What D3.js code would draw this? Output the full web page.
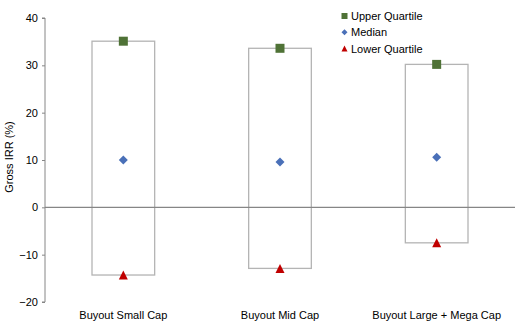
<!DOCTYPE html>
<html><head><meta charset="utf-8">
<script src="https://cdn.jsdelivr.net/npm/d3@7"></script>
<style>body{margin:0;background:#fff}svg{display:block;font-family:"Liberation Sans",Arial,sans-serif}</style>
</head><body><svg id="c" width="530" height="326"></svg>
<script>
const categories = ["Buyout Small Cap", "Buyout Mid Cap", "Buyout Large + Mega Cap"];
const upperQuartile = [35.1, 33.6, 30.2];
const median = [10.0, 9.6, 10.6];
const lowerQuartile = [-14.3, -12.9, -7.5];
const yTicks = [-20, -10, 0, 10, 20, 30, 40];
const legendLabels = ["Upper Quartile", "Median", "Lower Quartile"];

const svg = d3.select("#c");
const x0 = 45, x1 = 515;
const y = d3.scaleLinear().domain([-20, 40]).range([302, 18]);
const x = d3.scaleBand().domain(categories).range([x0, x1]).paddingInner(0).paddingOuter(0);
const boxW = x.bandwidth() * 0.4;
const cx = c => x(c) + x.bandwidth() / 2;

// y axis
const ax = svg.append("g").attr("transform", `translate(${x0},0)`)
  .call(d3.axisLeft(y).tickValues(yTicks).tickSize(3).tickPadding(4));
ax.select(".domain").attr("stroke", "#868686").attr("d", `M-3,${y(-20)}H0V${y(40)}H-3`);
ax.selectAll(".tick line").attr("stroke", "#868686");
ax.selectAll(".tick text").attr("font-size", 11).attr("fill", "#000").attr("font-family", "Liberation Sans, Arial, sans-serif");

// boxes
svg.selectAll("rect.box").data(categories).join("rect").attr("class", "box")
  .attr("x", c => cx(c) - boxW / 2).attr("width", boxW)
  .attr("y", (c, i) => y(upperQuartile[i]))
  .attr("height", (c, i) => y(lowerQuartile[i]) - y(upperQuartile[i]))
  .attr("fill", "none").attr("stroke", "#b4b4b4").attr("stroke-width", 1.3);

// zero line
svg.append("line").attr("x1", x0).attr("x2", x1).attr("y1", y(0)).attr("y2", y(0))
  .attr("stroke", "#868686").attr("stroke-width", 1.2);

// marker shapes
const squarePath = s => `M${-s/2},${-s/2}h${s}v${s}h${-s}Z`;
const diamondPath = s => `M0,${-s/2}L${s/2},0L0,${s/2}L${-s/2},0Z`;
const trianglePath = s => `M0,${-s/2}L${s/2},${s/2}L${-s/2},${s/2}Z`;

svg.selectAll("path.up").data(categories).join("path")
  .attr("transform", (c, i) => `translate(${cx(c)},${y(upperQuartile[i])})`)
  .attr("d", squarePath(9)).attr("fill", "#4f7236");
svg.selectAll("path.md").data(categories).join("path")
  .attr("transform", (c, i) => `translate(${cx(c)},${y(median[i])})`)
  .attr("d", diamondPath(9)).attr("fill", "#4a70b8");
svg.selectAll("path.lo").data(categories).join("path")
  .attr("transform", (c, i) => `translate(${cx(c)},${y(lowerQuartile[i])})`)
  .attr("d", trianglePath(9)).attr("fill", "#c00000");

// category labels
svg.selectAll("text.cat").data(categories).join("text")
  .attr("x", c => cx(c)).attr("y", 319).attr("text-anchor", "middle")
  .attr("font-size", 11).attr("fill", "#000").text(c => c);

// y label
svg.append("text").attr("transform", "translate(13,157) rotate(-90)")
  .attr("text-anchor", "middle").attr("font-size", 11).attr("fill", "#000").text("Gross IRR (%)");

// legend
const legPaths = [squarePath(6), diamondPath(6), trianglePath(6)];
const legCols = ["#4f7236", "#4a70b8", "#c00000"];
const lg = svg.append("g");
legendLabels.forEach((l, i) => {
  const yy = 16 + i * 16.3;
  lg.append("path").attr("transform", `translate(344.5,${yy})`).attr("d", legPaths[i]).attr("fill", legCols[i]);
  lg.append("text").attr("x", 351).attr("y", yy + 4).attr("font-size", 11).attr("fill", "#000").text(l);
});
</script></body></html>
